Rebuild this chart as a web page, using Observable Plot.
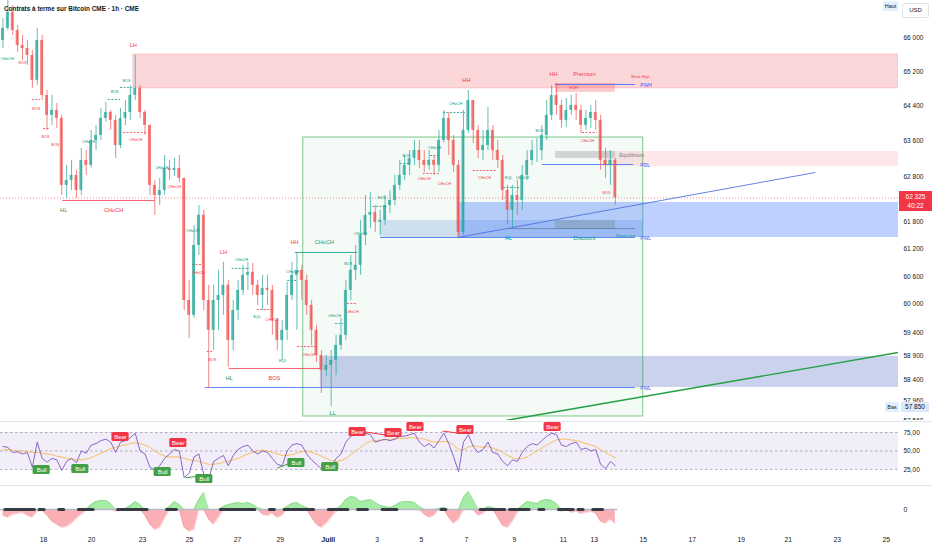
<!DOCTYPE html>
<html>
<head>
<meta charset="utf-8">
<script src="https://cdn.jsdelivr.net/npm/d3@7"></script>
<script src="https://cdn.jsdelivr.net/npm/@observablehq/plot@0.6"></script>
<style>
  body { margin: 0; background: #fff; }
  #chart { position: relative; width: 932px; height: 550px; overflow: hidden; background: #fff;
           font-family: "Liberation Sans", Arial, sans-serif; color: #131722; }
  .panel { position: absolute; left: 0; }
  .sep { position: absolute; left: 0; width: 932px; height: 1px; background: #e0e3eb; }
  .tag { position: absolute; box-sizing: border-box; text-align: center; white-space: nowrap; }
  #title { position: absolute; left: 4px; top: 5px; font-size: 6.4px; font-weight: bold; color: #131722; }
</style>
</head>
<body>
<div id="chart">
  <div id="main" class="panel" style="top:0"></div>
  <div class="sep" style="top:421px"></div>
  <div id="rsi" class="panel" style="top:422px"></div>
  <div class="sep" style="top:485px"></div>
  <div id="mom" class="panel" style="top:486px"></div>
  <div id="title">Contrats à terme sur Bitcoin CME · 1h · CME</div>
  <div class="tag" style="left:883px;top:1px;width:15px;height:10px;line-height:10px;background:#e3effd;font-size:5.5px;">Haut</div>
  <div class="tag" style="left:902px;top:3px;width:27px;height:15px;line-height:13px;border:1px solid #e0e3eb;border-radius:2px;font-size:6px;">USD</div>
  <div id="lastTag" class="tag" style="left:899px;width:33px;height:20px;background:#f23645;color:#fff;font-size:6.5px;line-height:9px;padding-top:1px;"></div>
  <div id="lowTag1" class="tag" style="left:885px;width:14px;height:10px;line-height:10px;background:#e3effd;font-size:5.5px;">Bas</div>
  <div id="lowTag2" class="tag" style="left:901px;width:28px;height:10px;line-height:10px;background:#dbe8fb;font-size:6.5px;"></div>
</div>
<script>
"use strict";

// 4-hour-ish bars (bar index = position along the time axis)
const open0 = 65930
const closes = [
  66214, 66594, 66167, 65812, 65741, 65578, 64998, 65930, 64648, 64190,
  64303, 64120, 62604, 62716, 62828, 62492, 63165, 63053, 63617, 63732,
  64120, 64257, 64075, 63503, 64120, 64257, 64648, 64812, 64257, 63960,
  62604, 62380, 62492, 62985, 62940, 62985, 62761, 60083, 59764, 61276,
  61938, 60083, 59446, 60083, 60192, 60409, 59233, 59870, 60300, 60626,
  60691, 60409, 60192, 60344, 60300, 59657, 59233, 59446, 60192, 60626,
  60734, 60517, 59977, 59446, 58916, 58602, 58706, 58811, 59126, 59340,
  60300, 60734, 60843, 61497, 61938, 62004, 61784, 61828, 62158, 62268,
  62604, 62828, 63053, 63210, 63389, 63165, 63053, 63165, 63053, 63617,
  64120, 63617, 63053, 61564, 63846, 64532, 63846, 63389, 63503, 63846,
  63389, 63165, 62492, 62048, 62380, 62268, 62828, 63165, 63389, 63389,
  63732, 64190, 64648, 64418, 64075, 64303, 64418, 64303, 63960, 64120,
  64257, 64075, 63165, 63053, 63165, 62325
]
const highs = [
  66451, 66950, 66760, 66285, 66049, 65930, 65694, 66214, 66049, 64764,
  64648, 64463, 64190, 63053, 63165, 62940, 63435, 63389, 63846, 63960,
  64349, 64486, 64303, 64190, 64349, 64532, 64880, 65578, 64880, 64303,
  63960, 62716, 62761, 63277, 63165, 63210, 63277, 62761, 60517, 61717,
  62158, 62048, 60409, 60409, 60734, 60908, 60517, 60083, 60517, 60843,
  60908, 60886, 60517, 60626, 60626, 60409, 59700, 59657, 60474, 60908,
  61123, 60843, 60626, 60083, 59552, 59020, 58916, 59020, 59340, 59700,
  60517, 61058, 61276, 61828, 62380, 62447, 62158, 62048, 62380, 62492,
  62828, 63165, 63277, 63389, 63617, 63617, 63389, 63389, 63277, 63846,
  64303, 64257, 63732, 63165, 64303, 64764, 64532, 63960, 63846, 64372,
  63960, 63617, 63277, 62604, 62604, 62716, 63053, 63389, 63617, 63663,
  63960, 64532, 64880, 64927, 64532, 64578, 64648, 64694, 64418, 64303,
  64418, 64532, 64190, 63435, 63389, 63210
]
const lows = [
  65741, 66167, 66049, 65648, 65462, 65346, 64812, 64880, 64532, 63846,
  63960, 63892, 62380, 62313, 62492, 62313, 62380, 62828, 62990, 63389,
  63617, 64029, 63846, 63210, 63435, 63960, 64075, 64532, 64120, 63732,
  62380, 61938, 62158, 62380, 62716, 62806, 62671, 59870, 59276, 59700,
  61058, 59870, 58226, 59020, 59446, 59764, 58664, 59020, 59657, 60192,
  60300, 60192, 59977, 59870, 59977, 59340, 59020, 58811, 59233, 60083,
  59446, 60083, 59764, 59126, 58769, 58122, 58476, 57850, 58497, 59020,
  59233, 60083, 60517, 60626, 61276, 61652, 61564, 61497, 61717, 61982,
  62158, 62492, 62716, 62828, 63053, 62985, 62895, 62940, 62828, 62895,
  63560, 63277, 62895, 61453, 61497, 63780, 63549, 63210, 63165, 63389,
  63165, 62985, 62268, 61717, 61673, 61938, 62048, 62716, 63053, 63120,
  63165, 63617, 64075, 64190, 63892, 63915, 64190, 64075, 63778, 63846,
  63892, 63846, 62940, 62761, 62604, 62158
]

// RSI (14) and its moving average
const rsi = [
  56, 55, 48, 49, 46, 48, 28, 62, 40, 35,
  40, 38, 24, 36, 40, 34, 50, 47, 58, 60,
  64, 66, 62, 48, 62, 64, 68, 74, 50, 46,
  28, 24, 30, 40, 46, 52, 50, 14, 20, 42,
  46, 18, 12, 36, 40, 44, 30, 44, 52, 56,
  58, 50, 46, 50, 48, 40, 32, 30, 50, 58,
  60, 58, 46, 38, 32, 26, 30, 28, 40, 46,
  62, 70, 72, 72, 74, 72, 62, 64, 66, 64,
  66, 70, 70, 72, 74, 62, 56, 60, 54, 64,
  74, 60, 42, 22, 62, 72, 56, 48, 52, 62,
  48, 46, 36, 30, 38, 36, 48, 56, 60, 58,
  64, 70, 74, 72, 58, 56, 60, 62, 52, 54,
  50, 52, 32, 26, 36, 30
]
const rsiMa = [
  52, 52, 51, 50, 50, 49, 48, 48, 47, 46, 45, 43,
  42, 40, 39, 38, 38, 39, 41, 44, 47, 50, 53, 55,
  57, 58, 60, 61, 60, 58, 55, 50, 46, 43, 42, 42,
  42, 40, 38, 37, 36, 34, 32, 32, 33, 35, 36, 38,
  40, 43, 46, 48, 50, 51, 50, 48, 46, 44, 44, 45,
  47, 49, 50, 48, 46, 43, 40, 37, 36, 37, 40, 45,
  50, 55, 60, 63, 64, 65, 65, 66, 66, 67, 67, 68,
  68, 67, 66, 64, 62, 62, 63, 62, 58, 52, 52, 55,
  57, 56, 55, 56, 54, 52, 48, 44, 41, 39, 40, 42,
  46, 50, 54, 58, 62, 65, 66, 66, 65, 64, 62, 60,
  58, 56, 52, 48, 44, 41
]

// squeeze momentum histogram and squeeze-on flags
const momentum = [
  -6, -8, -5, -4, -3, -6, -8, -2, -1, -6,
  -12, -15, -18, -17, -14, -9, -5, -1, 5, 8,
  9, 9, 6, -2, -1, 1, 4, 8, 5, -6,
  -15, -20, -18, -9, 3, 8, 5, -18, -22, -20,
  10, 17, -10, -15, -8, 3, 5, 6, 7, 6,
  7, 5, 2, -5, -6, -4, -8, -6, 3, 6,
  7, 4, 2, -8, -15, -18, -14, -8, -2, 4,
  10, 13, 12, 8, 9, 10, 7, 4, 3, 2,
  4, 7, 8, 8, 7, 3, -5, -8, -6, 1,
  2, -8, -14, -10, 12, 18, 10, -6, -4, 3,
  2, -8, -16, -18, -12, -3, 4, 8, 7, 6,
  9, 10, 9, 6, -2, 1, -3, -2, -4, -3,
  -2, -4, -12, -14, -10, -14
]
const squeeze = [
  0, 1, 1, 1, 1, 1, 1, 0, 1, 0,
  0, 0, 1, 0, 0, 0, 1, 1, 1, 0,
  0, 0, 0, 0, 1, 1, 1, 1, 1, 1,
  0, 0, 0, 0, 1, 1, 0, 0, 0, 0,
  0, 0, 0, 0, 0, 1, 1, 1, 1, 1,
  1, 1, 0, 0, 0, 1, 0, 0, 1, 1,
  1, 1, 1, 1, 0, 0, 0, 1, 1, 1,
  1, 0, 0, 1, 1, 0, 0, 0, 1, 1,
  1, 0, 0, 0, 0, 0, 0, 0, 0, 0,
  1, 0, 0, 0, 0, 0, 0, 0, 1, 1,
  1, 1, 1, 0, 1, 1, 1, 1, 0, 0,
  1, 0, 0, 0, 1, 1, 1, 0, 1, 0,
  0, 1, 1, 0, 0, 0
]

// time axis (bar positions of the day labels; weekends are compressed)
const visibleBars = 183.3
const dayTicks = [8.8, 18.6, 29.0, 38.6, 48.4, 57.1, 66.9, 76.9, 85.9, 95.1, 104.9, 114.9, 121.2, 131.2, 141.2, 151.2, 160.8, 170.8, 180.8]
const dayLabels = ["18", "20", "23", "25", "27", "29", "Juill", "3", "5", "7", "9", "11", "13", "15", "17", "19", "21", "23", "25"]

const priceRange = [57562, 66878]
const priceTicks = [66000, 65200, 64400, 63600, 62800, 61800, 61200, 60600, 60000, 59400, 58900, 58400, 57960, 57560]
const rsiRange = [3.4, 88.5]
const rsiTicks = [25, 50, 75]
const momRange = [-21, 23]

// zones: [fromBar, toBar, lowPrice, highPrice, kind]
const zones = [
  [27.1, 183.3, 64812, 65601, "supply"],
  [123.0, 183.3, 63031, 63366, "premium"],
  [65.3, 183.3, 58245, 58894, "demandLow"],
  [77.6, 131.2, 61450, 61825, "demandA"],
  [93.3, 183.3, 61450, 62224, "demandB"],
  [113.3, 125.5, 63210, 63366, "equilibrium"],
  [113.3, 125.5, 64717, 64927, "eqh"],
  [113.3, 125.5, 61627, 61825, "discount"]
]
const rangeBox = [[61.8, 131.2, 57645, 63684]]

// [fromBar, toBar, price, side]
const structureLines = [
  [12.7, 31.6, 62268, "bear"],
  [46.7, 65.3, 58642, "bear"],
  [60.2, 72.9, 61122, "bull"],
  [103.5, 129.6, 61646, "strong"]
]
const dashedLines = [
  [6.5, 8.2, 64555, "bear"], [8.8, 10.2, 63889, "bear"], [24.5, 26.9, 64832, "bull"],
  [22.0, 24.5, 64555, "bull"], [25.1, 30.0, 63797, "bear"], [39.2, 41.2, 60861, "bear"],
  [47.3, 51.0, 60774, "bull"], [52.4, 55.7, 59890, "bear"], [60.6, 64.9, 59104, "bear"],
  [42.2, 43.5, 58999, "bear"], [58.6, 60.6, 60514, "bull"], [68.4, 70.0, 59592, "bull"],
  [70.8, 72.9, 60019, "bear"], [76.0, 79.0, 62135, "bull"], [81.6, 83.7, 63096, "bull"],
  [87.8, 89.8, 63276, "bull"], [86.3, 89.8, 62871, "bear"], [90.4, 94.9, 64256, "bull"],
  [96.5, 101.4, 62938, "bear"], [102.7, 106.1, 62558, "bull"], [118.8, 121.8, 63797, "bear"]
]
const keyLevels = [
  [113.3, 129.6, 64902, "PWH"],
  [110.6, 129.2, 63073, "PDL"],
  [77.6, 129.6, 61450, "PWL"],
  [41.8, 129.6, 58245, "PWL"]
]
// [bar1, price1, bar2, price2, kind]
const trendLines = [
  [93.3, 61450, 166.3, 62893, "blue"],
  [103.1, 57562, 183.3, 58978, "green"]
]

// [bar, price, text, side]
const swingLabels = [
  [27.1, 65812, "LH", "bear"], [12.9, 62046, "HL", "bull"], [23.1, 62046, "CHoCH", "bear"],
  [45.5, 61122, "LH", "bear"], [60.0, 61341, "HH", "bear"], [66.1, 61341, "CHoCH", "bull"],
  [46.7, 58434, "HL", "bull"], [55.9, 58434, "BOS", "bear"], [67.8, 57710, "LL", "bull"],
  [95.1, 64998, "HH", "bear"], [112.9, 65137, "HH", "bear"], [119.2, 65137, "Premium", "bear"],
  [103.7, 61428, "HL", "bull"], [119.2, 61428, "Discount", "bull"]
]
const smallLabels = [
  [1.4, 65507, "CHoCH", "bull"], [4.5, 65414, "BOS", "bear"], [7.3, 64348, "BOS", "bear"],
  [9.2, 63706, "BOS", "bear"], [11.2, 63525, "BOS", "bear"], [25.7, 64998, "BOS", "bull"],
  [23.3, 64740, "BOS", "bull"], [18.0, 63593, "CHoCH", "bull"], [27.6, 63638, "CHoCH", "bear"],
  [32.9, 63005, "CHoCH", "bull"], [35.5, 62580, "CHoCH", "bear"], [39.2, 61605, "CHoCH", "bull"],
  [40.4, 60687, "CHoCH", "bear"], [43.3, 58831, "BOS", "bear"], [49.2, 60970, "CHoCH", "bull"],
  [52.4, 59742, "EQL", "bull"], [55.4, 59680, "CHoCH", "bear"], [57.6, 58810, "EQL", "bull"],
  [59.6, 60709, "CHoCH", "bull"], [62.9, 58936, "CHoCH", "bear"], [68.2, 59763, "CHoCH", "bull"],
  [71.8, 59848, "CHoCH", "bear"], [71.0, 60883, "BOS", "bull"], [73.5, 61539, "CHoCH", "bull"],
  [77.8, 62334, "BOS", "bull"], [82.9, 63276, "BOS", "bull"], [88.6, 63457, "CHoCH", "bull"],
  [86.5, 62753, "CHoCH", "bear"], [90.6, 62647, "CHoCH", "bear"], [92.9, 64463, "CHoCH", "bull"],
  [98.8, 62775, "CHoCH", "bear"], [103.7, 62775, "EQL", "bull"], [106.5, 62775, "CHoCH", "bull"],
  [110.0, 63842, "BOS", "bull"], [119.8, 63616, "CHoCH", "bear"], [123.7, 62445, "BOS", "bear"],
  [130.6, 65091, "Weak High", "bear"], [117.0, 64832, "EQH", "bear"], [127.6, 61494, "Strong Low", "bull"]
]
const equilibriumLabel = [[126.3, 63276, "Equilibrium"]]

// RSI divergences: [bar, rsi, text]
const divLabels = [
  [8.4, 24.3, "Bull"], [16.3, 25.7, "Bull"], [24.5, 69, "Bear"], [33.1, 21.6, "Bull"],
  [36.3, 60.8, "Bear"], [41.6, 12.2, "Bull"], [60.4, 33.8, "Bull"], [67.3, 28.4, "Bull"],
  [72.9, 75.7, "Bear"], [80.2, 74.3, "Bear"], [84.7, 82.4, "Bear"], [94.9, 78.4, "Bear"],
  [112.7, 82.4, "Bear"]
]
const divLines = [
  [37.8, 13.9, 40.8, 16.2, "Bull"], [56.5, 27, 59.2, 33.8, "Bull"],
  [74.5, 75.7, 78.6, 71.6, "Bear"], [90.2, 77, 93.3, 74.3, "Bear"]
]

// ---- build tables ----
const candles = closes.map((c, i) => {
  const o = i == 0 ? open0 : closes[i - 1]
  return {i, o, c, h: Math.max(highs[i], o, c), l: Math.min(lows[i], o, c)}
})
const rsiRows = rsi.map((v, i) => ({i, v, ma: rsiMa[i]}))
const momRows = momentum.map((v, i) => ({i, v, sq: squeeze[i]}))
const lastClose = closes[closes.length - 1]
const lowest = d3.min(lows)

const up = "#26a69a", down = "#ef5350"
const sideColor = {bull: "#089981", bear: "#f23645", strong: "#5d7fa8"}
const zoneFill = {supply: "#f23645", premium: "#f23645", demandLow: "#3f5fbf", demandA: "#5b93dc", demandB: "#2962ff", equilibrium: "#a3a6af", eqh: "#f23645", discount: "#7d97a8"}
const zoneOpacity = {supply: 0.2, premium: 0.12, demandLow: 0.28, demandA: 0.25, demandB: 0.3, equilibrium: 0.45, eqh: 0.25, discount: 0.5}

const fmtPrice = d3.formatLocale({decimal: ",", thousands: "\u00a0", grouping: [3], currency: ["", ""]}).format(",d")
const fmtRsi = d => d.toFixed(2).replace(".", ",")
const font = "'Liberation Sans', Arial, sans-serif"
const x = {domain: [0, visibleBars], axis: null}

const mainPlot = Plot.plot({
  width: 932, height: 420,
  marginLeft: 0, marginRight: 34, marginTop: 0, marginBottom: 0,
  x,
  y: {type: "log", domain: priceRange, axis: null},
  style: {fontFamily: font, fontSize: "6.5px", color: "#131722", background: "transparent"},
  marks: [
    Plot.rect(zones.slice(0, 1), {x1: d => d[0], x2: d => d[1], y1: d => d[2], y2: d => d[3], fill: "#f23645", fillOpacity: 0.2, stroke: "#f23645", strokeOpacity: 0.2, clip: true}),
    Plot.rect(rangeBox, {x1: d => d[0], x2: d => d[1], y1: d => d[2], y2: d => d[3], fill: "#4caf50", fillOpacity: 0.06, stroke: "#7cc88a", strokeWidth: 1, clip: true}),
    Plot.rect(zones.slice(1), {x1: d => d[0], x2: d => d[1], y1: d => d[2], y2: d => d[3], fill: d => zoneFill[d[4]], fillOpacity: d => zoneOpacity[d[4]], clip: true}),
    Plot.ruleY([lastClose], {stroke: "#f23645", strokeOpacity: 0.6, strokeDasharray: "1,2"}),
    Plot.link(trendLines, {x1: d => d[0], y1: d => d[1], x2: d => d[2], y2: d => d[3], stroke: d => d[4] == "blue" ? "#4f74e3" : "#22a040", strokeWidth: d => d[4] == "blue" ? 0.9 : 1.4, clip: true}),
    Plot.ruleY(structureLines, {y: d => d[2], x1: d => d[0], x2: d => d[1], stroke: d => sideColor[d[3]], strokeWidth: 1, strokeOpacity: 0.8}),
    Plot.ruleY(dashedLines, {y: d => d[2], x1: d => d[0], x2: d => d[1], stroke: d => sideColor[d[3]], strokeWidth: 0.8, strokeDasharray: "2,1.5"}),
    Plot.ruleY(keyLevels, {y: d => d[2], x1: d => d[0], x2: d => d[1], stroke: "#2962ff", strokeWidth: 1, strokeOpacity: 0.75}),
    Plot.ruleX(candles, {x: d => d.i + 0.5, y1: "l", y2: "h", stroke: d => d.c >= d.o ? up : down, strokeOpacity: 0.8, strokeWidth: 0.9, clip: true}),
    Plot.rect(candles, {x1: d => d.i + 0.2, x2: d => d.i + 0.8, y1: "o", y2: "c", fill: d => d.c >= d.o ? up : down, fillOpacity: 0.75, clip: true}),
    Plot.text(swingLabels, {x: d => d[0], y: d => d[1], text: d => d[2], fill: d => sideColor[d[3]], fontSize: 5.6}),
    Plot.text(smallLabels, {x: d => d[0], y: d => d[1], text: d => d[2], fill: d => sideColor[d[3]], fontSize: 3.8}),
    Plot.text(equilibriumLabel, {x: d => d[0], y: d => d[1], text: d => d[2], fill: "#787b86", fontSize: 5, textAnchor: "start"}),
    Plot.text(keyLevels, {x: 130.6, y: d => d[2], text: d => d[3], fill: "#2962ff", fontSize: 5, textAnchor: "start", dy: 1}),
    Plot.axisY({anchor: "right", ticks: priceTicks, tickFormat: fmtPrice, tickSize: 0, tickPadding: 5, label: null})
  ]
})
document.querySelector("#main").append(mainPlot)

const rsiPlot = Plot.plot({
  width: 932, height: 63,
  marginLeft: 0, marginRight: 34, marginTop: 0, marginBottom: 0,
  x,
  y: {domain: rsiRange, axis: null},
  style: {fontFamily: font, fontSize: "6.5px", color: "#131722", background: "transparent"},
  marks: [
    Plot.rect([rsiTicks], {x1: 0, x2: visibleBars, y1: d => d[0], y2: d => d[2], fill: "#7e57c2", fillOpacity: 0.1}),
    Plot.ruleY(rsiTicks, {stroke: "#787b86", strokeOpacity: 0.7, strokeDasharray: "2.5,2.5", strokeWidth: 0.8}),
    Plot.lineY(rsiRows, {x: d => d.i + 0.5, y: "ma", stroke: "#f6b94e", strokeWidth: 0.9}),
    Plot.lineY(rsiRows, {x: d => d.i + 0.5, y: "v", stroke: "#7e57c2", strokeWidth: 0.9}),
    Plot.link(divLines, {x1: d => d[0], y1: d => d[1], x2: d => d[2], y2: d => d[3], stroke: d => d[4] == "Bull" ? "#43a047" : "#f23645", strokeWidth: 1}),
    Plot.rect(divLabels, {x1: d => d[0] - 1.75, x2: d => d[0] + 1.75, y1: d => d[1] - 6, y2: d => d[1] + 6, fill: d => d[2] == "Bull" ? "#43a047" : "#f23645", rx: 1.5}),
    Plot.text(divLabels, {x: d => d[0], y: d => d[1], text: d => d[2], fill: "white", fontSize: 6}),
    Plot.axisY({anchor: "right", ticks: rsiTicks, tickFormat: fmtRsi, tickSize: 0, tickPadding: 5, label: null})
  ]
})
document.querySelector("#rsi").append(rsiPlot)

const tickLabel = new Map(dayTicks.map((t, i) => [t, dayLabels[i]]))
const monthTicks = dayTicks.filter(t => tickLabel.get(t) == "Juill")
const plainTicks = dayTicks.filter(t => tickLabel.get(t) != "Juill")

const momPlot = Plot.plot({
  width: 932, height: 64,
  marginLeft: 0, marginRight: 34, marginTop: 0, marginBottom: 20,
  x,
  y: {domain: momRange, axis: null},
  style: {fontFamily: font, fontSize: "6.8px", color: "#131722", background: "transparent"},
  marks: [
    Plot.areaY(momRows, {x: d => d.i + 0.5, y: d => Math.max(d.v, 0), fill: "#4cd94c", fillOpacity: 0.5}),
    Plot.areaY(momRows, {x: d => d.i + 0.5, y: d => Math.min(d.v, 0), fill: "#f23645", fillOpacity: 0.4}),
    Plot.lineY(momRows, {x: d => d.i + 0.5, y: d => Math.max(d.v, 0), stroke: "#4caf50", strokeOpacity: 0.5, strokeWidth: 0.6}),
    Plot.lineY(momRows, {x: d => d.i + 0.5, y: d => Math.min(d.v, 0), stroke: "#f23645", strokeOpacity: 0.4, strokeWidth: 0.6}),
    Plot.ruleY(momRows, {y: 0, x1: d => d.i, x2: d => d.i + 1, stroke: "#b8bbc3", strokeWidth: 1.6}),
    Plot.ruleY(momRows.filter(d => d.sq), {y: 0, x1: d => d.i, x2: d => d.i + 1, stroke: "#363a45", strokeWidth: 3, strokeLinecap: "round"}),
    Plot.axisY({anchor: "right", ticks: [0], tickSize: 0, tickPadding: 5, label: null}),
    Plot.axisX({anchor: "bottom", ticks: plainTicks, tickFormat: d => tickLabel.get(d), tickSize: 0, tickPadding: 7, label: null}),
    Plot.axisX({anchor: "bottom", ticks: monthTicks, tickFormat: d => tickLabel.get(d), tickSize: 0, tickPadding: 7, label: null, fontWeight: "bold"})
  ]
})
document.querySelector("#mom").append(momPlot)

// price tags on the right scale
const yMain = mainPlot.scale("y")
const lastTag = document.querySelector("#lastTag")
lastTag.style.top = (yMain.apply(lastClose) - 6) + "px"
lastTag.innerHTML = fmtPrice(lastClose) + "<br>40:22"
const lowY = yMain.apply(lowest) - 4
document.querySelector("#lowTag1").style.top = lowY + "px"
const low2 = document.querySelector("#lowTag2")
low2.style.top = lowY + "px"
low2.textContent = fmtPrice(lowest)
</script>
</body>
</html>
